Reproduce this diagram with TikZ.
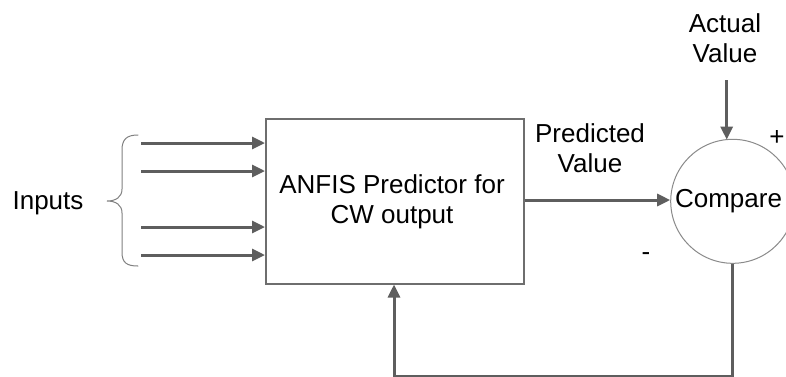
\documentclass[tikz,border=0pt]{standalone}
\usepackage{fontspec}
\setmainfont{Liberation Sans}
\usetikzlibrary{arrows.meta}
\definecolor{linegray}{HTML}{5E5E5E}
\definecolor{boxgray}{HTML}{6E6E6E}
\definecolor{circgray}{HTML}{8A8A8A}
\definecolor{bracegray}{HTML}{808080}
\begin{document}
\begin{tikzpicture}[x=1pt,y=-1pt,
  lab/.style={font=\fontsize{26}{30}\selectfont, align=center, inner sep=0pt, text=black},
  conn/.style={draw=linegray, line width=3pt, line join=miter, -{Triangle[length=13pt,width=12pt]}},
  bracestyle/.style={draw=bracegray, line width=1pt, line cap=round}
]
\useasboundingbox (0,0) rectangle (786,376);

% main box
\node[draw=boxgray, line width=1.5pt, minimum width=258pt, minimum height=165pt,
      anchor=north west, inner sep=0pt] (anfis) at (265,118) {};
\node[lab] (anfistext) at (392,202) {ANFIS Predictor for\\CW output};

% compare circle
\node[circle, draw=circgray, line width=1pt, minimum size=124pt, inner sep=0pt] (cmp) at (732.7,201.3) {};
\node[lab] (cmptext) at (728.5,201) {Compare};

% labels
\node[lab] (inputs) at (48,203) {Inputs};
\node[lab] (pred) at (590,148) {Predicted\\Value};
\node[lab] (act) at (725,38) {Actual\\Value};
\node[lab] (plus) at (777,138) {+};
\node[lab] (minus) at (646,257) {-};

% brace
\draw[bracestyle] (138,135) .. controls (127,135) and (122,139) .. (122,150) -- (122,189)
  .. controls (122,197) and (116,201) .. (107,201)
  .. controls (116,201) and (122,205) .. (122,213) -- (122,252)
  .. controls (122,263) and (127,266) .. (138,266);

% input arrows
\coordinate (i1) at (141,143);
\coordinate (i2) at (141,171);
\coordinate (i3) at (141,227);
\coordinate (i4) at (141,255);
\foreach \c in {i1,i2,i3,i4} \draw[conn] (\c) -- (\c -| anfis.west);

% predicted value arrow
\draw[conn] (anfis.east |- 0,200) -- (cmp.west |- 0,200);

% actual value arrow
\coordinate (a0) at (726.7,80);
\coordinate (a1) at (726.7,139.6);
\draw[conn] (a0) -- (a1);

% feedback
\coordinate (fb) at (394,376);
\draw[conn] (cmp.south) |- (fb) -- (fb |- anfis.south);
\end{tikzpicture}
\end{document}
